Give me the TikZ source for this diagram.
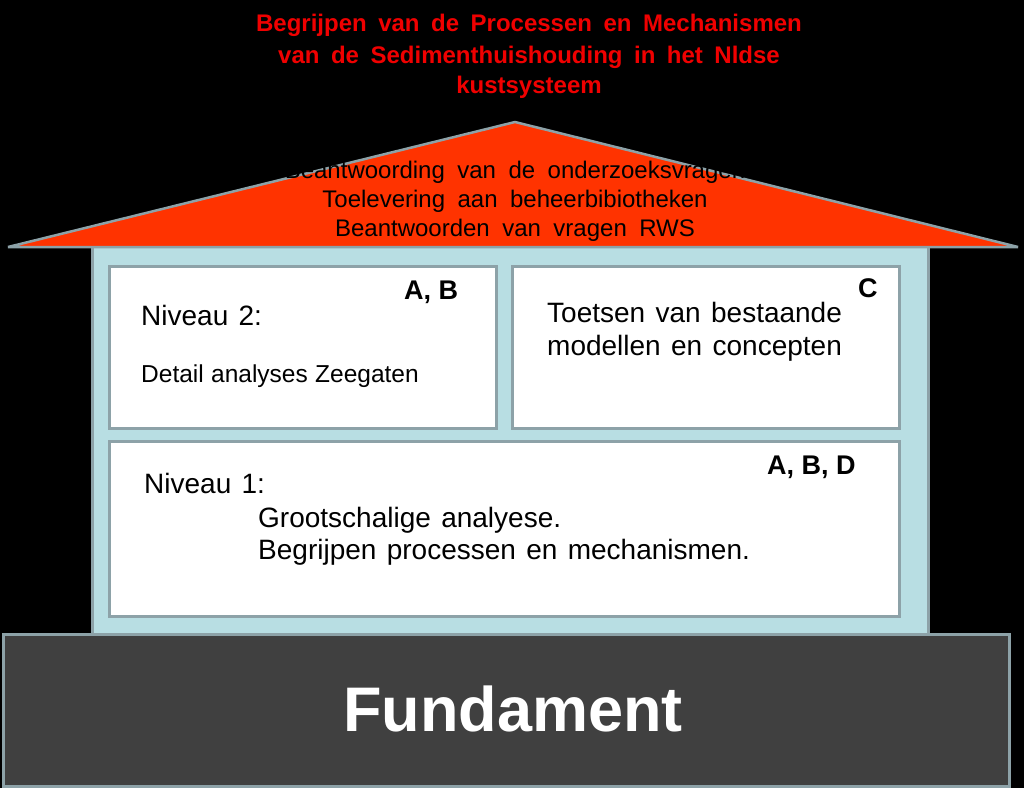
\documentclass[tikz,border=0pt]{standalone}
\usepackage{fontspec}
\setmainfont{Liberation Sans}
\definecolor{roofred}{HTML}{FF3300}
\definecolor{edgegray}{HTML}{8DA2A8}
\definecolor{bodyblue}{HTML}{B8DEE3}
\definecolor{funddark}{HTML}{404040}
\definecolor{titlered}{HTML}{F00000}
\newcommand\wordsp[1]{\spaceskip #1\relax}
\begin{document}
\begin{tikzpicture}[x=1pt,y=-1pt,
  panel/.style={draw=edgegray, line width=2.5pt, fill=white, anchor=north west, inner sep=0pt},
  txt/.style={anchor=base west, inner sep=0pt, text=black, font=\fontsize{28}{33}\selectfont\wordsp{0.37em}},
  tag/.style={anchor=base west, inner sep=0pt, text=black, font=\fontsize{27}{32}\selectfont\bfseries},
  title/.style={anchor=base, inner sep=0pt, text=titlered, font=\fontsize{24}{31}\selectfont\bfseries\wordsp{0.48em}},
  rooftxt/.style={anchor=base, inner sep=0pt, text=black, font=\fontsize{24}{29}\selectfont\wordsp{0.52em}}]
\useasboundingbox (0,0) rectangle (1024,788);
\fill[black] (0,0) rectangle (1024,788);
% title
\node[title] (t1) at (529,31) {Begrijpen van de Processen en Mechanismen};
\node[title] (t2) at (529,63) {van de Sedimenthuishouding in het Nldse};
\node[title] (t3) at (529,93) {kustsysteem};
% house body
\node[draw=edgegray, line width=2.5pt, fill=bodyblue, anchor=north west, inner sep=0pt,
      minimum width=836pt, minimum height=390pt] (house) at (91,245) {};
% roof
\coordinate (apex) at (515,122);
\coordinate (roofl) at (8,247);
\coordinate (roofr) at (1018,247);
\filldraw[fill=roofred, draw=edgegray, line width=2.5pt, line join=bevel] (roofl) -- (apex) -- (roofr) -- cycle;
\node[rooftxt] (r1) at (515,178) {Beantwoording van de onderzoeksvragen};
\node[rooftxt] (r2) at (515,207) {Toelevering aan beheerbibiotheken};
\node[rooftxt] (r3) at (515,236) {Beantwoorden van vragen RWS};
% panels
\node[panel, minimum width=387pt, minimum height=162pt] (p2) at (108,265) {};
\node[panel, minimum width=387pt, minimum height=162pt] (pc) at (511,265) {};
\node[panel, minimum width=790pt, minimum height=175pt] (p1) at (108,440) {};
% panel texts
\node[txt] (n2) at (141,325) {Niveau 2:};
\node[tag] (ab) at (404,299) {A, B};
\node[txt, font=\fontsize{24.5}{29}\selectfont\wordsp{0.3em}] (det) at (141,382) {Detail analyses Zeegaten};
\node[tag] (c) at (858,297) {C};
\node[txt] (toe1) at (547,322) {Toetsen van bestaande};
\node[txt] (toe2) at (547,355) {modellen en concepten};
\node[txt] (n1) at (144,493) {Niveau 1:};
\node[tag] (abd) at (767,474) {A, B, D};
\node[txt] (g1) at (258,527) {Grootschalige analyese.};
\node[txt] (g2) at (258,559) {Begrijpen processen en mechanismen.};
% foundation
\node[draw=edgegray, line width=2.5pt, fill=funddark, anchor=north west, inner sep=0pt,
      minimum width=1006pt, minimum height=152pt] (fund) at (2,633) {};
\node[anchor=base, inner sep=0pt, text=white, font=\fontsize{63}{70}\selectfont\bfseries] (ftxt) at (513,731) {Fundament};
\end{tikzpicture}
\end{document}
